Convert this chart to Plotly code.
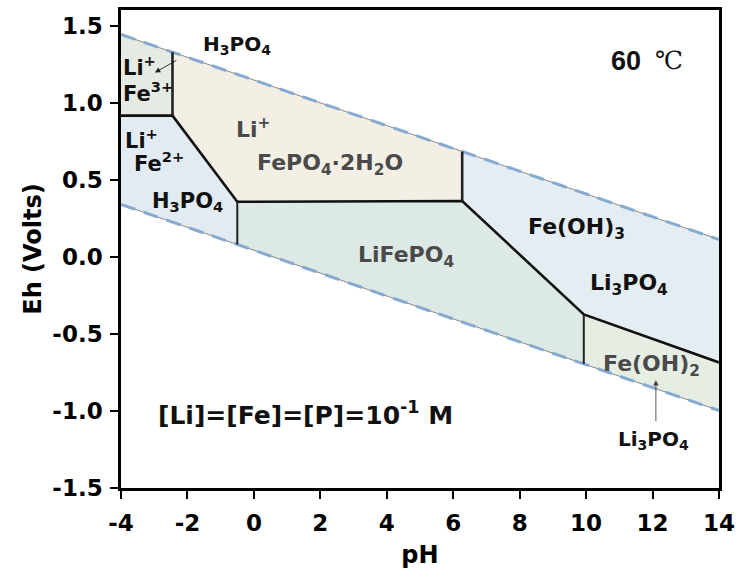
import plotly.graph_objects as go

# ---------------- data ----------------
water_ph = [-4, 14]
o2_eh = [1.444, 0.113]      # upper water stability line
h2_eh = [0.341, -0.997]     # lower water stability line

# region polygons (pH, Eh)
r_fe3_ph = [-4, -2.45, -2.45, -4]
r_fe3_eh = [1.444, 1.329, 0.917, 0.917]
r_fe2_ph = [-4, -2.45, -0.5, -0.5, -4]
r_fe2_eh = [0.917, 0.917, 0.358, 0.081, 0.341]
r_fepo4_ph = [-2.45, 6.27, 6.27, -0.5, -2.45]
r_fepo4_eh = [1.329, 0.684, 0.363, 0.358, 0.917]
r_lfp_ph = [-0.5, 6.27, 9.93, 9.93, -0.5]
r_lfp_eh = [0.358, 0.363, -0.373, -0.694, 0.081]
r_feoh3_ph = [6.27, 14, 14, 9.93, 6.27]
r_feoh3_eh = [0.684, 0.113, -0.685, -0.373, 0.363]
r_feoh2_ph = [9.93, 14, 14, 9.93]
r_feoh2_eh = [-0.373, -0.685, -0.997, -0.694]

# phase boundaries
bnd_main_ph = [-4, -2.45, -0.5, 6.27, 9.93, 14]
bnd_main_eh = [0.917, 0.917, 0.358, 0.363, -0.373, -0.685]
bnd_v1_ph = [-2.45, -2.45]
bnd_v1_eh = [1.329, 0.917]
bnd_v2_ph = [-0.5, -0.5]
bnd_v2_eh = [0.358, 0.081]
bnd_v3_ph = [6.27, 6.27]
bnd_v3_eh = [0.684, 0.363]
bnd_v4_ph = [9.93, 9.93]
bnd_v4_eh = [-0.373, -0.694]

x_ticks = [-4, -2, 0, 2, 4, 6, 8, 10, 12, 14]
x_ticktext = ["-4", "-2", "0", "2", "4", "6", "8", "10", "12", "14"]
y_ticks = [-1.5, -1.0, -0.5, 0.0, 0.5, 1.0, 1.5]
y_ticktext = ["-1.5", "-1.0", "-0.5", "0.0", "0.5", "1.0", "1.5"]

FONT = "DejaVu Sans"

fig = go.Figure()

regions = [
    (r_fe3_ph, r_fe3_eh, "#e5eae2"),
    (r_fe2_ph, r_fe2_eh, "#e2ebf1"),
    (r_fepo4_ph, r_fepo4_eh, "#f4efe5"),
    (r_lfp_ph, r_lfp_eh, "#dce9e5"),
    (r_feoh3_ph, r_feoh3_eh, "#e4edf2"),
    (r_feoh2_ph, r_feoh2_eh, "#e6eee4"),
]
for px, py, col in regions:
    fig.add_trace(go.Scatter(x=px, y=py, fill="toself", fillcolor=col,
                             mode="none", hoverinfo="skip", showlegend=False))

# water lines: thin grey line plus blue dashes
for eh in (o2_eh, h2_eh):
    fig.add_trace(go.Scatter(x=water_ph, y=eh, mode="lines",
                             line=dict(color="#7d7d7d", width=0.9),
                             hoverinfo="skip", showlegend=False))
    fig.add_trace(go.Scatter(x=water_ph, y=eh, mode="lines",
                             line=dict(color="#86aad0", width=3, dash="15px,9px"),
                             hoverinfo="skip", showlegend=False))

fig.add_trace(go.Scatter(x=bnd_main_ph, y=bnd_main_eh, mode="lines",
                         line=dict(color="#111111", width=2.6),
                         hoverinfo="skip", showlegend=False))
for vx, vy, w in [(bnd_v1_ph, bnd_v1_eh, 2.6), (bnd_v2_ph, bnd_v2_eh, 2.0),
                  (bnd_v3_ph, bnd_v3_eh, 2.6), (bnd_v4_ph, bnd_v4_eh, 2.0)]:
    fig.add_trace(go.Scatter(x=vx, y=vy, mode="lines",
                             line=dict(color="#222222", width=w),
                             hoverinfo="skip", showlegend=False))

BLACK = "#111111"
GREY = "#4a4a4a"
labels = [
    (-3.45, 1.242, "Li<sup>+</sup>", BLACK, 21),
    (-3.2, 1.068, "Fe<sup>3+</sup>", BLACK, 21),
    (-0.52, 1.375, "H<sub>3</sub>PO<sub>4</sub>", BLACK, 20),
    (-0.04, 0.835, "Li<sup>+</sup>", GREY, 22),
    (-3.37, 0.765, "Li<sup>+</sup>", BLACK, 21),
    (-2.85, 0.616, "Fe<sup>2+</sup>", BLACK, 21),
    (-1.99, 0.358, "H<sub>3</sub>PO<sub>4</sub>", BLACK, 21),
    (2.28, 0.597, "FePO<sub>4</sub>·2H<sub>2</sub>O", GREY, 22),
    (4.59, 0.003, "LiFePO<sub>4</sub>", GREY, 22),
    (9.72, 0.184, "Fe(OH)<sub>3</sub>", BLACK, 22),
    (11.29, -0.177, "Li<sub>3</sub>PO<sub>4</sub>", BLACK, 22),
    (11.98, -0.706, "Fe(OH)<sub>2</sub>", GREY, 22),
    (12.04, -1.19, "Li<sub>3</sub>PO<sub>4</sub>", BLACK, 20),
]
for x, y, t, c, s in labels:
    fig.add_annotation(x=x, y=y, text=f"<b>{t}</b>", showarrow=False,
                       font=dict(family=FONT, size=s, color=c))

# arrows
fig.add_annotation(x=-2.98, y=1.197, ax=-2.29, ay=1.281, axref="x", ayref="y",
                   text="", showarrow=True, arrowhead=2, arrowsize=1.2,
                   arrowwidth=0.9, arrowcolor="#222222")
fig.add_annotation(x=12.1, y=-0.80, ax=12.1, ay=-1.075, axref="x", ayref="y",
                   text="", showarrow=True, arrowhead=2, arrowsize=1.2,
                   arrowwidth=0.9, arrowcolor="#444444")

fig.add_annotation(x=-2.95, y=-1.016, xanchor="left",
                   text="<b>[Li]=[Fe]=[P]=10<sup>-1</sup> M</b>", showarrow=False,
                   font=dict(family=FONT, size=25, color="#111111"))
fig.add_annotation(x=11.2, y=1.274, text="<b>60</b>", showarrow=False,
                   font=dict(family="Liberation Sans", size=27, color="#111111"))
fig.add_annotation(x=12.49, y=1.274, text="℃", showarrow=False,
                   font=dict(family="DejaVu Serif", size=25, color="#111111"))

axis_common = dict(showgrid=False, zeroline=False, showline=True, linecolor="black",
                   linewidth=2.5, mirror=True, ticks="outside", ticklen=8,
                   tickwidth=2, tickcolor="black",
                   tickfont=dict(family=FONT, size=23, color="black", weight="bold"))

fig.update_xaxes(range=[-4, 14], tickvals=x_ticks, ticktext=x_ticktext,
                 ticklabelstandoff=5,
                 title=dict(text="<b>pH</b>", font=dict(family=FONT, size=24, color="black"),
                            standoff=11),
                 **axis_common)
fig.update_yaxes(range=[-1.5, 1.603], tickvals=y_ticks, ticktext=y_ticktext,
                 ticklabelstandoff=3,
                 title=dict(text="<b>Eh (Volts)</b>", font=dict(family=FONT, size=24, color="black"),
                            standoff=4),
                 **axis_common)

fig.update_layout(width=742, height=578, margin=dict(l=121, r=22, t=7, b=90),
                  plot_bgcolor="white", paper_bgcolor="white", showlegend=False)

fig.write_html("out.html")
